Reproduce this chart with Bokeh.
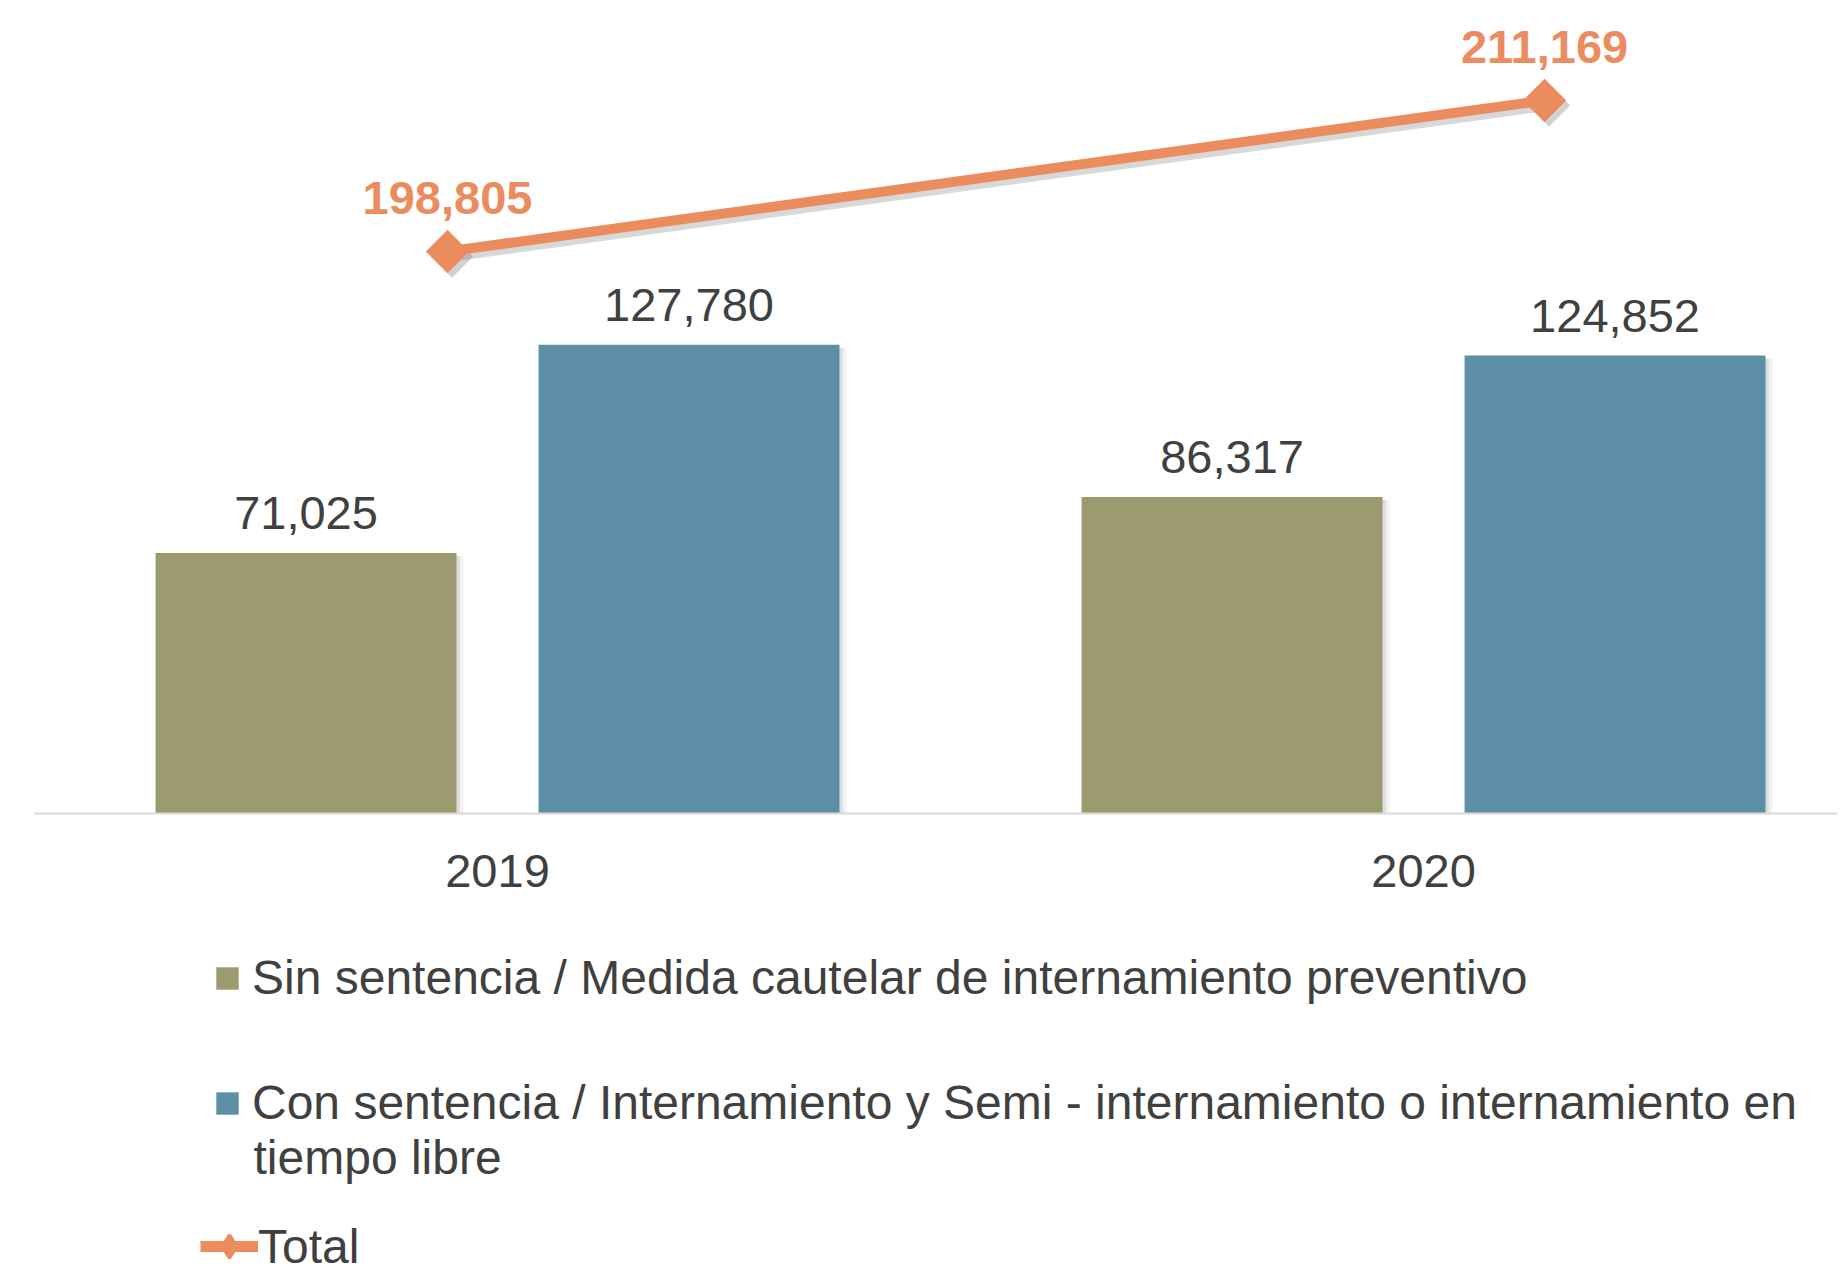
from bokeh.plotting import figure
from bokeh.layouts import column
from bokeh.models import Range1d, FixedTicker, Legend, LegendItem, Label
from bokeh.core.properties import value
from bokeh.embed import file_html
from bokeh.resources import INLINE

# ---- data ----
years = ["2019", "2020"]
sin_sentencia = [71025, 86317]
con_sentencia = [127780, 124852]
total = [198805, 211169]
series_names = [
    "Sin sentencia / Medida cautelar de internamiento preventivo",
    "Con sentencia / Internamiento y Semi - internamiento o internamiento en\ntiempo libre",
    "Total",
]

OLIVE = "#9C9B70"
BLUE = "#5D90A7"
ORANGE = "#EB8C5F"
TXT = "#404040"
FONT = "Liberation Sans"
FS = "47px"
LFS = "48px"

idx = list(range(len(years)))
off = 0.2068
bw = 0.325

p = figure(frame_width=1803, frame_height=793, output_backend="svg", toolbar_location=None,
           x_range=Range1d(-0.5, 1.447), y_range=Range1d(0, 216200),
           y_axis_location=None, min_border_left=34, min_border_right=0, min_border_top=20,
           min_border_bottom=100, outline_line_color=None, background_fill_color="white",
           border_fill_color="white")
p.extra_x_ranges = {"lx": Range1d(-0.3765, 1.267)}
p.extra_y_ranges = {"ly": Range1d(152788, 217719)}
p.grid.visible = False

# x axis
ax = p.xaxis[0]
ax.ticker = FixedTicker(ticks=idx)
ax.major_label_overrides = {i: y for i, y in zip(idx, years)}
ax.axis_line_color = "#D9D9D9"
ax.axis_line_width = 2
ax.major_tick_line_color = None
ax.minor_tick_line_color = None
ax.major_label_text_font = FONT
ax.major_label_text_font_size = FS
ax.major_label_text_color = TXT
ax.major_label_standoff = 35

xs1 = [i - off for i in idx]
xs2 = [i + off for i in idx]

# soft shadows
for dx, a in [(0.0035, 0.18), (0.0075, 0.10)]:
    p.vbar(x=[x + dx for x in xs1], top=[v - 800 for v in sin_sentencia], width=bw, bottom=0,
           color="#7F7F7F", alpha=a, line_color=None)
    p.vbar(x=[x + dx for x in xs2], top=[v - 800 for v in con_sentencia], width=bw, bottom=0,
           color="#7F7F7F", alpha=a, line_color=None)

r1 = p.vbar(x=xs1, top=sin_sentencia, width=bw, bottom=0, fill_color=OLIVE, line_color=None)
r2 = p.vbar(x=xs2, top=con_sentencia, width=bw, bottom=0, fill_color=BLUE, line_color=None)

fmt = lambda v: f"{v:,}"
p.text(x=xs1, y=sin_sentencia, text=[fmt(v) for v in sin_sentencia], text_align="center",
       text_baseline="alphabetic", y_offset=-40, text_font=value(FONT), text_font_size=FS,
       text_color=TXT)
p.text(x=xs2, y=con_sentencia, text=[fmt(v) for v in con_sentencia], text_align="center",
       text_baseline="alphabetic", y_offset=-40, text_font=value(FONT), text_font_size=FS,
       text_color=TXT)

# line shadow
p.line(x=[i + 0.004 for i in idx], y=[v - 420 for v in total], x_range_name="lx", y_range_name="ly",
       line_color="#7F7F7F", line_alpha=0.3, line_width=10)
p.scatter(x=[i + 0.004 for i in idx], y=[v - 420 for v in total], x_range_name="lx", y_range_name="ly",
          marker="square", angle=0.785398, size=30, fill_color="#7F7F7F", fill_alpha=0.35, line_color=None)

r3 = p.line(x=idx, y=total, x_range_name="lx", y_range_name="ly", line_color=ORANGE, line_width=10)
r4 = p.scatter(x=idx, y=total, x_range_name="lx", y_range_name="ly", marker="square",
               angle=0.785398, size=30, fill_color=ORANGE, line_color=ORANGE, line_width=1)
p.text(x=idx, y=total, text=[fmt(v) for v in total], x_range_name="lx", y_range_name="ly",
       text_align="center", text_baseline="alphabetic", y_offset=-53, text_font=value(FONT),
       text_font_size=FS, text_font_style="bold", text_color=ORANGE)

# ---- legend area ----
lf = figure(frame_width=1803, frame_height=359, output_backend="svg", toolbar_location=None,
            x_range=Range1d(0, 1), y_range=Range1d(0, 1), x_axis_location=None,
            y_axis_location=None, min_border_left=34, min_border_right=0, min_border_top=0,
            min_border_bottom=0, outline_line_color=None, background_fill_color="white",
            border_fill_color="white")
lf.grid.visible = False
# hidden stand-ins carrying the series styles for the legend swatches
d1 = lf.vbar(x=idx, top=sin_sentencia, width=bw, fill_color=OLIVE, line_color=None, visible=False)
d2 = lf.vbar(x=idx, top=con_sentencia, width=bw, fill_color=BLUE, line_color=None, visible=False)
d3 = lf.line(x=idx, y=total, line_color=ORANGE, line_width=11, visible=False)
d4 = lf.scatter(x=idx, y=total, marker="diamond", size=30, fill_color=ORANGE,
                line_color=ORANGE, line_width=3, visible=False)


def mk_legend(item, gw, gh, loc, standoff):
    return Legend(items=[item], location=loc, glyph_width=gw, glyph_height=gh,
                  label_text_font=FONT, label_text_font_size=LFS, label_text_color=TXT,
                  border_line_color=None, background_fill_alpha=0, padding=0, margin=0,
                  label_standoff=standoff, spacing=0, click_policy="none")


name2_lines = series_names[1].split("\n")
lf.add_layout(mk_legend(LegendItem(label=series_names[0], renderers=[d1]), 28, 28, (179, 267), 11), "center")
lf.add_layout(mk_legend(LegendItem(label=name2_lines[0], renderers=[d2]), 28, 28, (179, 142), 11), "center")
lf.add_layout(Label(x=219, y=115, x_units="screen", y_units="screen", text=name2_lines[1],
                    text_font=FONT, text_font_size=LFS, text_color=TXT, text_baseline="middle",
                    text_align="left"))
lf.add_layout(mk_legend(LegendItem(label=series_names[2], renderers=[d3, d4]), 58, 58, (166, -3), 0), "center")

layout = column(p, lf, spacing=0)
open("out.html", "w").write(file_html(layout, INLINE))
